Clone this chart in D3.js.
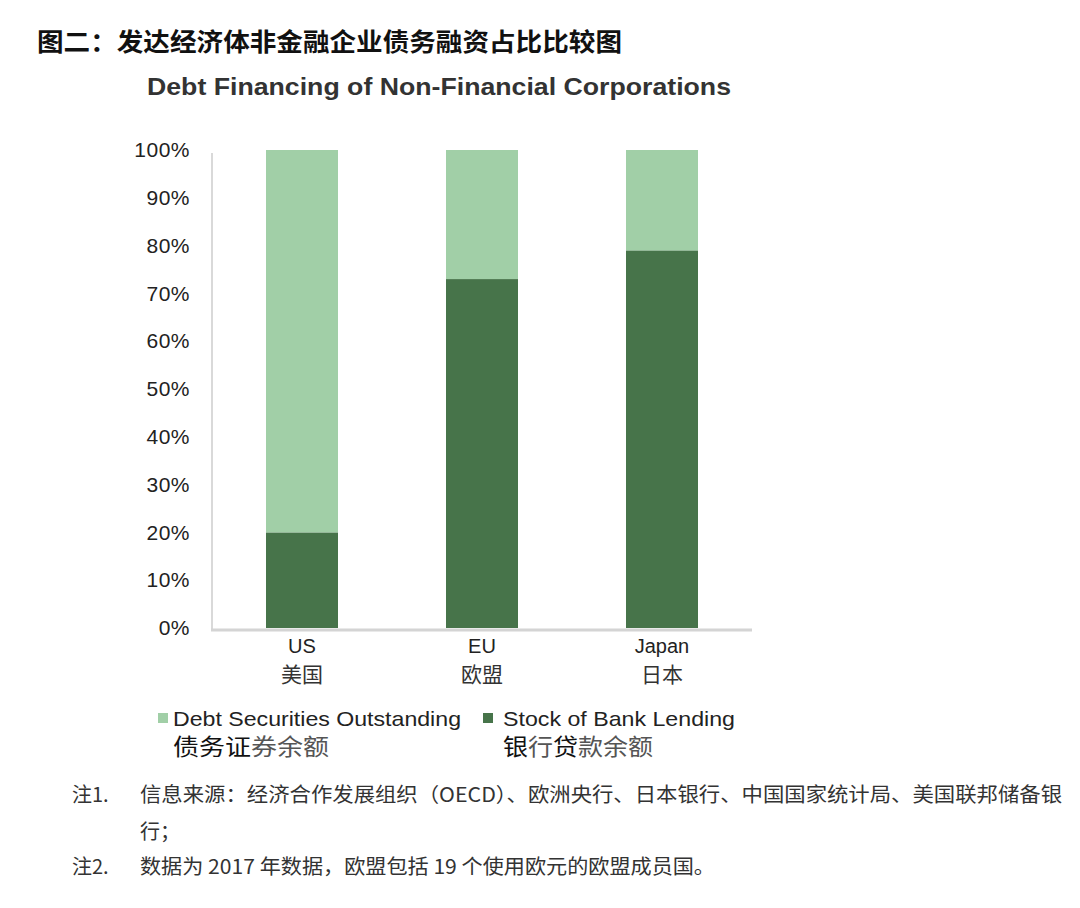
<!DOCTYPE html>
<html>
<head>
<meta charset="utf-8">
<script src="https://cdn.jsdelivr.net/npm/d3@7/dist/d3.min.js"></script>
<style>
  html, body { margin: 0; padding: 0; background: #fff; }
  svg { display: block; }
</style>
</head>
<body>
<svg id="chart" width="1080" height="908"></svg>
<script>
// ---- data ----
const categories = ["US", "EU", "Japan"];
const categoriesZh = ["美国", "欧盟", "日本"];
const bankLending = [0.20, 0.73, 0.79];      // Stock of Bank Lending
const debtSecurities = [0.80, 0.27, 0.21];   // Debt Securities Outstanding
const yTicks = [0, 0.1, 0.2, 0.3, 0.4, 0.5, 0.6, 0.7, 0.8, 0.9, 1.0];
const seriesKeys = ["bank", "debt"];
const seriesNames = ["Stock of Bank Lending", "Debt Securities Outstanding"];
// legend Chinese names split into darker / lighter pieces as in the source image
const seriesNamesZh = [
  [["银", 0], ["行", 1], ["贷", 0], ["款余额", 1]],
  [["债务证", 0], ["券余额", 1]]
];

const title = "图二：发达经济体非金融企业债务融资占比比较图";
const chartTitle = "Debt Financing of Non-Financial Corporations";
const note1Label = "注1.";
const note1Line1 = "信息来源：经济合作发展组织（OECD）、欧洲央行、日本银行、中国国家统计局、美国联邦储备银";
const note1Line2 = "行；";
const note2Label = "注2.";
const note2Line = "数据为 2017 年数据，欧盟包括 19 个使用欧元的欧盟成员国。";

// ---- setup ----
const svg = d3.select("#chart");
const colors = { bank: "#47744a", debt: "#a1cfa7" };
const latin = "'Liberation Sans', Arial, sans-serif";
const cjk = "'Noto Sans CJK SC', 'Liberation Sans', sans-serif";

const plot = { left: 212, right: 752, top: 150, bottom: 628 };

const x = d3.scaleBand()
  .domain(categories)
  .range([plot.left, plot.right])
  .paddingInner(0.6)
  .paddingOuter(0.3);

const y = d3.scaleLinear().domain([0, 1]).range([plot.bottom, plot.top]);

const table = categories.map((c, i) => ({ cat: c, bank: bankLending[i], debt: debtSecurities[i] }));
const stacked = d3.stack().keys(seriesKeys)(table);

// titles
svg.append("text")
  .attr("x", 37).attr("y", 42)
  .attr("dy", "0.36em")
  .attr("font-family", cjk).attr("font-weight", 700).attr("font-size", 25)
  .attr("fill", "#111")
  .attr("textLength", 585).attr("lengthAdjust", "spacingAndGlyphs")
  .text(title);

svg.append("text")
  .attr("x", 147).attr("y", 86)
  .attr("dy", "0.36em")
  .attr("font-family", latin).attr("font-weight", 700).attr("font-size", 24)
  .attr("fill", "#333")
  .attr("textLength", 584).attr("lengthAdjust", "spacingAndGlyphs")
  .text(chartTitle);

// bars
svg.append("g").selectAll("g")
  .data(stacked)
  .join("g")
  .attr("fill", d => colors[d.key])
  .selectAll("rect")
  .data(d => d)
  .join("rect")
  .attr("x", d => x(d.data.cat))
  .attr("width", x.bandwidth())
  .attr("y", d => y(d[1]))
  .attr("height", d => y(d[0]) - y(d[1]));

// y axis
const yAxis = d3.axisLeft(y)
  .tickValues(yTicks)
  .tickFormat(d3.format(".0%"))
  .tickSize(0)
  .tickPadding(22);

const yg = svg.append("g")
  .attr("transform", `translate(${plot.left},0)`)
  .call(yAxis);
yg.select(".domain").remove();
yg.selectAll("text")
  .attr("font-family", latin)
  .attr("font-size", 21)
  .attr("fill", "#222")
  .attr("letter-spacing", 0.5);

// axis lines
svg.append("line")
  .attr("x1", plot.left).attr("x2", plot.left)
  .attr("y1", plot.top + 3).attr("y2", plot.bottom + 2)
  .attr("stroke", "#d9d9d9").attr("stroke-width", 2);
svg.append("line")
  .attr("x1", plot.left - 1).attr("x2", plot.right)
  .attr("y1", plot.bottom + 2).attr("y2", plot.bottom + 2)
  .attr("stroke", "#d4d4d4").attr("stroke-width", 3);

// x axis labels
const xg = svg.append("g");
xg.selectAll("text.en")
  .data(categories)
  .join("text")
  .attr("class", "en")
  .attr("x", d => x(d) + x.bandwidth() / 2)
  .attr("y", 653)
  .attr("text-anchor", "middle")
  .attr("font-family", latin).attr("font-size", 20)
  .attr("fill", "#222")
  .text(d => d);
xg.selectAll("text.zh")
  .data(categoriesZh)
  .join("text")
  .attr("class", "zh")
  .attr("x", (d, i) => x(categories[i]) + x.bandwidth() / 2)
  .attr("y", 682)
  .attr("text-anchor", "middle")
  .attr("font-family", cjk).attr("font-size", 21)
  .attr("fill", "#333")
  .text(d => d);

// legend
const legendItems = [
  { key: "debt", name: seriesNames[1], zh: seriesNamesZh[1], sx: 158, tx: 173, w: 288, zw: 156 },
  { key: "bank", name: seriesNames[0], zh: seriesNamesZh[0], sx: 483, tx: 503, w: 232, zw: 150 }
];
const lg = svg.append("g");
legendItems.forEach(it => {
  lg.append("rect")
    .attr("x", it.sx).attr("y", 713)
    .attr("width", 10).attr("height", 10)
    .attr("fill", colors[it.key]);
  lg.append("text")
    .attr("x", it.tx).attr("y", 718).attr("dy", "0.36em")
    .attr("font-family", latin).attr("font-size", 21)
    .attr("fill", "#222")
    .attr("textLength", it.w).attr("lengthAdjust", "spacingAndGlyphs")
    .text(it.name);
  const zt = lg.append("text")
    .attr("x", it.tx).attr("y", 747).attr("dy", "0.36em")
    .attr("font-family", cjk).attr("font-size", 23)
    .attr("textLength", it.zw).attr("lengthAdjust", "spacingAndGlyphs");
  it.zh.forEach(([s, light]) => {
    zt.append("tspan")
      .attr("fill", light ? "#555" : "#111")
      .text(s);
  });
});

// notes
const notes = svg.append("g")
  .attr("font-family", cjk).attr("font-size", 20).attr("fill", "#333");
notes.append("text").attr("x", 72).attr("y", 795).attr("dy", "0.36em").text(note1Label);
notes.append("text").attr("x", 140).attr("y", 795).attr("dy", "0.36em")
  .attr("textLength", 922).attr("lengthAdjust", "spacingAndGlyphs")
  .text(note1Line1);
notes.append("text").attr("x", 140).attr("y", 832).attr("dy", "0.36em").text(note1Line2);
notes.append("text").attr("x", 72).attr("y", 867).attr("dy", "0.36em").text(note2Label);
notes.append("text").attr("x", 140).attr("y", 867).attr("dy", "0.36em")
  .attr("textLength", 575).attr("lengthAdjust", "spacingAndGlyphs")
  .text(note2Line);
</script>
</body>
</html>
